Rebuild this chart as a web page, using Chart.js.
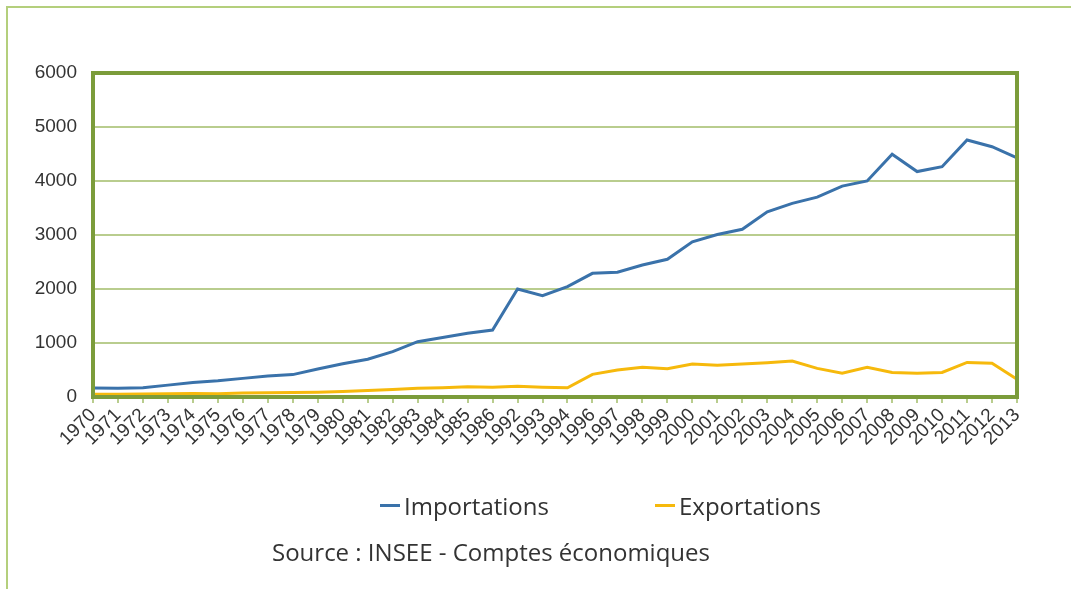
<!DOCTYPE html>
<html>
<head>
<meta charset="utf-8">
<script src="https://cdn.jsdelivr.net/npm/chart.js@4/dist/chart.umd.min.js"></script>
<style>
  html, body { margin: 0; padding: 0; background: #fff; overflow: hidden; }
  body { width: 1071px; height: 589px; position: relative; }
  #outer-frame {
    position: absolute; left: 6px; top: 6px; width: 1120px; height: 640px;
    border: 2px solid #b4cf7c;
  }
  #chart-wrap { position: absolute; left: 0; top: 0; width: 1071px; height: 460px; }
  #legend { position: absolute; left: 0; top: 0; width: 1071px; height: 589px; pointer-events: none; }
  .legend-item {
    position: absolute; top: 490px; height: 30px; display: flex; align-items: center;
    font-family: 'Open Sans', Roboto, sans-serif; font-size: 24px; color: #333;
  }
  .legend-swatch { width: 20px; height: 3px; margin-right: 4px; }
  #source {
    position: absolute; left: 272px; top: 535px; line-height: 34px;
    font-family: 'Open Sans', Roboto, sans-serif; font-size: 24px; color: #333;
  }
</style>
</head>
<body>
<div id="outer-frame"></div>
<div id="chart-wrap"><canvas id="trade-chart"></canvas></div>
<div id="legend"></div>
<div id="source">Source : INSEE - Comptes économiques</div>
<script>
// Categories (years, with the gap 1987-1991 and 1995 as in the source)
const years = ['1970', '1971', '1972', '1973', '1974', '1975', '1976', '1977', '1978', '1979',
  '1980', '1981', '1982', '1983', '1984', '1985', '1986', '1992', '1993', '1994',
  '1996', '1997', '1998', '1999', '2000', '2001', '2002', '2003', '2004', '2005',
  '2006', '2007', '2008', '2009', '2010', '2011', '2012', '2013'];

const importations = [165, 160, 170, 220, 270, 300, 345, 390, 415, 520,
  615, 700, 840, 1025, 1100, 1180, 1240, 2000, 1875, 2045,
  2290, 2310, 2445, 2550, 2875, 3010, 3105, 3430, 3585, 3700,
  3905, 4000, 4495, 4175, 4265, 4760, 4635, 4430];

const exportations = [50, 50, 55, 60, 65, 60, 75, 80, 85, 90,
  100, 120, 140, 160, 170, 190, 180, 200, 180, 170,
  420, 500, 550, 525, 610, 590, 610, 635, 665, 530,
  440, 550, 455, 440, 455, 640, 625, 330];

const yTicks = [0, 1000, 2000, 3000, 4000, 5000, 6000];

const gridGreen = '#b9cd8e';
const frameGreen = '#7b9c3a';
const axisFamily = "'Liberation Sans', Arial, sans-serif";

// thick olive frame around the plot area
const plotFrame = {
  id: 'plotFrame',
  afterDatasetsDraw(chart) {
    const { ctx, chartArea } = chart;
    ctx.save();
    ctx.strokeStyle = frameGreen;
    ctx.lineWidth = 4;
    ctx.strokeRect(chartArea.left, chartArea.top, chartArea.right - chartArea.left, chartArea.bottom - chartArea.top);
    ctx.restore();
  }
};

const ctx = document.getElementById('trade-chart').getContext('2d');

const chart = new Chart(ctx, {
  type: 'line',
  data: {
    labels: years,
    datasets: [
      {
        label: 'Importations',
        data: importations,
        borderColor: '#3a72aa',
        backgroundColor: '#3a72aa',
        borderWidth: 3,
        pointRadius: 0,
        tension: 0
      },
      {
        label: 'Exportations',
        data: exportations,
        borderColor: '#f6b90c',
        backgroundColor: '#f6b90c',
        borderWidth: 3,
        pointRadius: 0,
        tension: 0
      }
    ]
  },
  options: {
    responsive: true,
    maintainAspectRatio: false,
    animation: false,
    layout: { padding: { left: 33, right: 54, top: 73, bottom: 8 } },
    plugins: {
      legend: { display: false },
      tooltip: { enabled: false }
    },
    scales: {
      x: {
        offset: false,
        afterFit(scale) { scale.height = 55; },
        grid: {
          drawOnChartArea: false,
          drawTicks: true,
          tickLength: 6,
          color: gridGreen,
          lineWidth: 2
        },
        border: { display: false },
        ticks: {
          autoSkip: false,
          maxRotation: 45,
          minRotation: 45,
          padding: 1,
          color: '#333',
          font: { family: axisFamily, size: 19 }
        }
      },
      y: {
        min: 0,
        max: 6000,
        afterFit(scale) { scale.width = 60; },
        afterBuildTicks(scale) { scale.ticks = yTicks.map(v => ({ value: v })); },
        grid: {
          drawTicks: false,
          color: gridGreen,
          lineWidth: 2
        },
        border: { display: false },
        ticks: {
          padding: 16,
          color: '#333',
          font: { family: axisFamily, size: 19 },
          callback: v => String(v)
        }
      }
    }
  },
  plugins: [plotFrame]
});

// HTML legend built from the datasets
const legendPositions = [380, 655];
const legendEl = document.getElementById('legend');
chart.data.datasets.forEach((ds, i) => {
  const item = document.createElement('div');
  item.className = 'legend-item';
  item.style.left = legendPositions[i] + 'px';
  const sw = document.createElement('span');
  sw.className = 'legend-swatch';
  sw.style.background = ds.borderColor;
  const txt = document.createElement('span');
  txt.textContent = ds.label;
  item.appendChild(sw);
  item.appendChild(txt);
  legendEl.appendChild(item);
});
</script>
</body>
</html>
